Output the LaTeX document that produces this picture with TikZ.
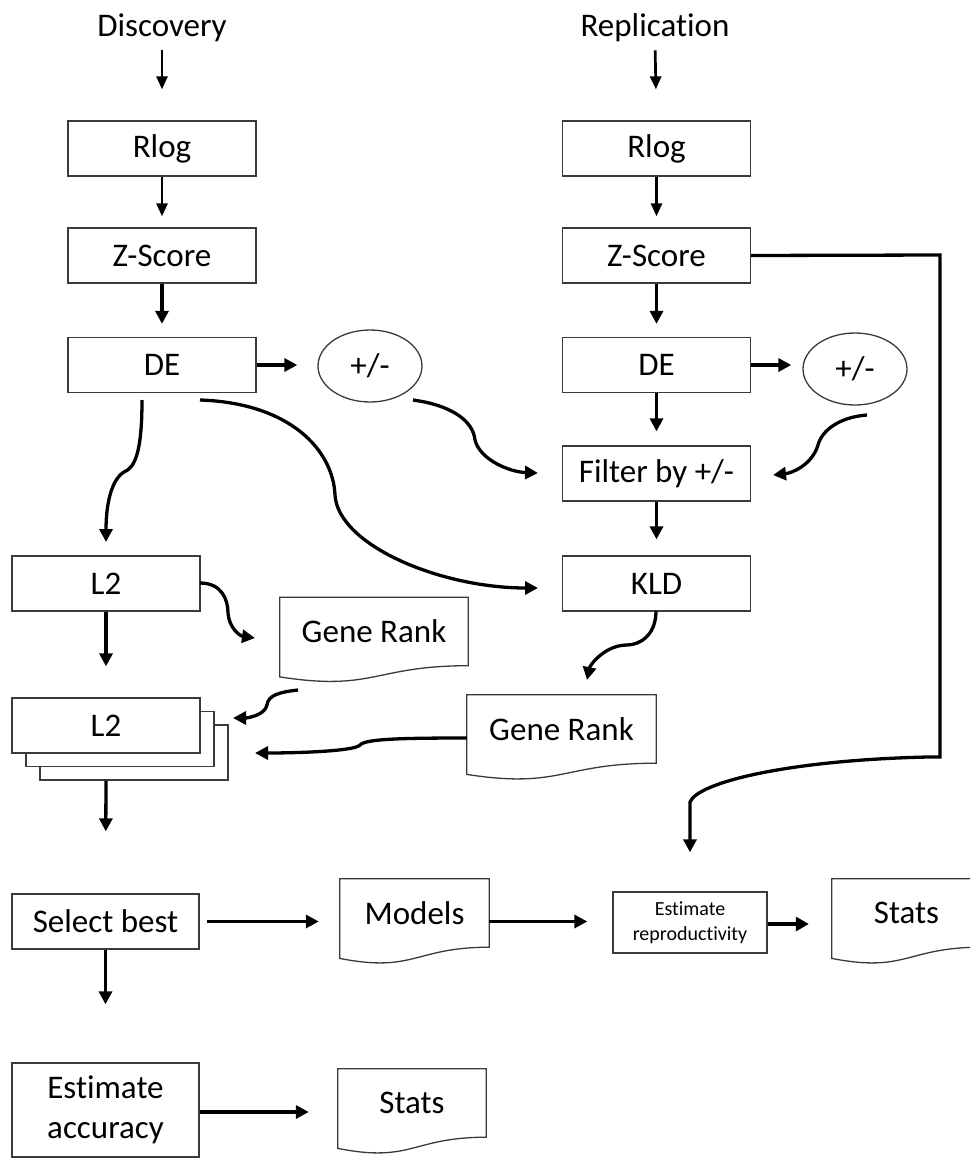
\documentclass[tikz,border=0pt]{standalone}
\usepackage{fontspec}
\setmainfont{Carlito}[Ligatures=NoCommon]
\usetikzlibrary{arrows.meta,calc,shapes.geometric}

\definecolor{boxgray}{HTML}{3A3A3A}

\tikzset{
  bigtext/.style={font=\fontsize{33}{40}\selectfont},
  box/.style={draw=boxgray, line width=1.3pt, fill=white, inner sep=0pt,
    minimum width=188pt, minimum height=55pt, align=center, bigtext},
  docnode/.style={inner sep=0pt, minimum height=68pt, align=center, bigtext},
  docline/.style={draw=boxgray, line width=1.3pt, fill=white},
  oval/.style={ellipse, draw=boxgray, line width=1.3pt, inner sep=0pt,
    minimum width=104pt, minimum height=72pt, bigtext},
  title/.style={inner sep=0pt, bigtext},
  conn/.style={line width=3.3pt, -{Triangle[length=13pt,width=13pt]}},
  thinconn/.style={line width=2.7pt, -{Triangle[length=13pt,width=11pt]}},
}

% document shape: flat top, wavy bottom below the node's south edge
\newcommand{\docshape}[1]{%
  \path[docline] ($(#1.south west)+(0,11.2)$) -- (#1.north west) -- (#1.north east)
    -- (#1.south east) .. controls ($(#1.south)$) and ($(#1.south)+(0,25.9)$)
    .. ($(#1.south west)+(0,11.2)$) -- cycle;}

\begin{document}
\begin{tikzpicture}[x=1pt,y=-1pt]
\path[use as bounding box] (0,0) rectangle (970,1159);
\clip (0,0) rectangle (970,1159);

% column titles
\node[title] (disc) at (162,28) {Discovery};
\node[title] (repl) at (655,28) {Replication};

% discovery column
\node[box] (rlog1) at (162,148.5) {Rlog};
\node[box] (z1) at (162,255.5) {Z-Score};
\node[box] (de1) at (162,365) {DE};
\node[oval] (pm1) at (370,366) {+/-};
\node[box] (l2a) at (106,583.5) {L2};

% stacked L2 boxes
\node[box] (l2d) at (134,752.5) {};
\node[box] (l2c) at (120,739) {};
\node[box] (l2b) at (106,725.5) {L2};

% replication column
\node[box] (rlog2) at (656.5,148.5) {Rlog};
\node[box] (z2) at (656.5,255.5) {Z-Score};
\node[box] (de2) at (656.5,365) {DE};
\node[oval] (pm2) at (855,369) {+/-};
\node[box] (filt) at (656.5,473.5) {Filter by +/-};
\node[box] (kld) at (656.5,583.5) {KLD};

% gene rank documents
\node[docnode, minimum width=188pt] (gr1) at (374,631.5) {};
\docshape{gr1}
\node[bigtext] at (gr1) {Gene Rank};
\node[docnode, minimum width=189pt] (gr2) at (561.5,729) {};
\docshape{gr2}
\node[bigtext] at (gr2) {Gene Rank};

% bottom rows
\node[box, minimum width=187pt] (sel) at (105.5,921.5) {Select best};
\node[docnode, minimum width=149pt] (models) at (414.5,913) {};
\docshape{models}
\node[bigtext] at (models) {Models};
\node[box, minimum width=154pt, minimum height=61pt,
  font=\fontsize{20}{25}\selectfont] (estrep) at (690,922.5) {Estimate\\reproductivity};
\node[docnode, minimum width=149pt] (stats1) at (906.5,913) {};
\docshape{stats1}
\node[bigtext] at (stats1) {Stats};
\node[box, minimum width=187pt, minimum height=94pt] (acc) at (105.5,1110) {Estimate\\accuracy};
\node[docnode, minimum width=148pt] (stats2) at (412,1103) {};
\docshape{stats2}
\node[bigtext] at (stats2) {Stats};

% straight connectors
\draw[thinconn, shorten <=8pt, shorten >=31pt] (disc.south) -- (rlog1.north);
\draw[thinconn, shorten <=8pt, shorten >=31pt] (repl.south) -- (rlog2.north);
\draw[thinconn, shorten >=11pt] (rlog1) -- (z1);
\draw[thinconn, shorten >=11pt] (rlog2) -- (z2);
\draw[conn, shorten >=13pt] (z1) -- (de1);
\draw[conn, shorten >=13pt] (z2) -- (de2);
\draw[conn, shorten >=20pt] (de1.east) -- (pm1.west |- de1.east);
\draw[conn, shorten >=11pt] (de2.east) -- (pm2.west |- de2.east);
\draw[conn, shorten >=14pt] (de2) -- (filt);
\draw[conn, shorten >=16pt] (filt) -- (kld);
\draw[conn, shorten >=31pt] (l2a) -- (l2b);
\draw[conn, shorten >=62pt] (l2b.center |- l2d.south) -- (sel.north);
\draw[conn, shorten >=58pt] (sel) -- (acc);
\draw[conn, shorten <=7pt, shorten >=21pt] (sel.east) -- (models.west |- sel.east);
\draw[conn, shorten >=25pt] (models.east |- sel.east) -- (estrep.west |- sel.east);
\draw[line width=4.6pt, -{Triangle[length=13pt,width=14pt]}, shorten >=23pt]
  (estrep.east |- 0,924) -- (stats1.west |- 0,924);
\draw[conn, shorten >=29pt] (acc.east |- 0,1112) -- (stats2.west |- 0,1112);

% curved connectors
\coordinate (a1) at (142,400);
\coordinate (a2) at (106,542);
\draw[conn] (a1) .. controls (142,455) and (134,468) .. (124,472)
  .. controls (111,480) and (106,505) .. (a2);

\coordinate (b1) at (200,400);
\coordinate (b2) at (538,588);
\draw[conn] (b1) .. controls (290,403) and (333,450) .. (335,495)
  .. controls (338,545) and (440,588) .. (b2);

\coordinate (c1) at (413,400);
\coordinate (c2) at (538,473);
\draw[conn] (c1) .. controls (450,405) and (473,420) .. (475,440)
  .. controls (480,460) and (510,472) .. (c2);

\coordinate (d1) at (867,415);
\coordinate (d2) at (773,475);
\draw[conn] (d1) .. controls (840,417) and (822,430) .. (818,445)
  .. controls (812,465) and (792,473) .. (d2);

\coordinate (e1) at (200,583);
\coordinate (e2) at (255,638);
\draw[conn] (e1) .. controls (222,583) and (228,600) .. (228,613)
  .. controls (229,628) and (240,636) .. (e2);

\coordinate (f1) at (298,690);
\coordinate (f2) at (233,718);
\draw[conn] (f1) .. controls (280,692) and (268,695) .. (267,705)
  .. controls (265,715) and (248,718) .. (f2);

\coordinate (g2) at (255,753);
\draw[conn] (gr2.west |- 0,738) .. controls (400,738) and (365,739) .. (360,745)
  .. controls (355,751) and (300,753) .. (g2);

\coordinate (h1) at (656,611);
\coordinate (h2) at (587,680);
\draw[conn] (h1) .. controls (656,635) and (640,645) .. (627,645)
  .. controls (605,645) and (590,665) .. (h2);

\coordinate (k1) at (940,255);
\coordinate (k2) at (940,757);
\coordinate (k3) at (690,802);
\draw[conn, line join=miter, shorten >=39pt] (z2.east) -- (k1) -- (k2) -- (928,757)
  .. controls (790,760) and (698,782) .. (k3) -- (estrep.north);
\end{tikzpicture}
\end{document}
